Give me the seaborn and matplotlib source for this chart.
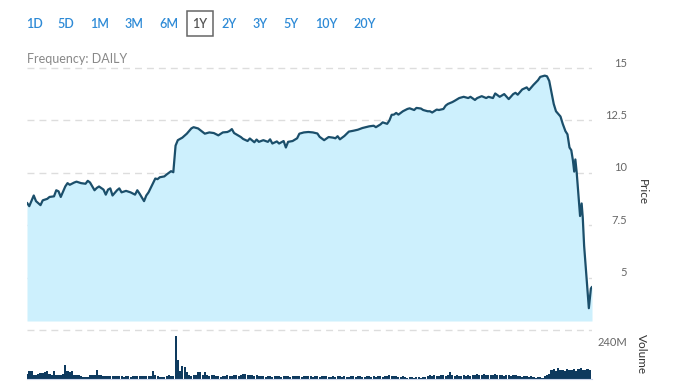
import numpy as np
import matplotlib
matplotlib.use("Agg")
import matplotlib.pyplot as plt
import matplotlib.transforms as mtransforms
from matplotlib.patches import Rectangle
import seaborn as sns

# range selector buttons and the selected one
ranges = ["1D", "5D", "1M", "3M", "6M", "1Y", "2Y", "3Y", "5Y", "10Y", "20Y"]
selected_range = "1Y"
frequency_text = "Frequency: DAILY"

# daily close (trading day index, price)
price_day = [0, 1, 3, 4, 6, 7, 9, 10, 12, 13,
             14, 15, 17, 18, 19, 21, 22, 24, 26, 27,
             28, 30, 31, 32, 34, 35, 36, 37, 38, 40,
             41, 42, 44, 46, 48, 49, 50, 52, 53, 54,
             56, 57, 58, 59, 61, 62, 64, 65, 66, 67,
             68, 69, 71, 73, 74, 76, 78, 79, 81, 83,
             85, 87, 89, 90, 91, 92, 95, 96, 98, 99,
             101, 102, 103, 105, 107, 108, 109, 111, 112, 114,
             115, 116, 118, 120, 121, 123, 125, 127, 129, 130,
             132, 134, 136, 137, 138, 139, 141, 143, 145, 147,
             149, 152, 154, 155, 157, 158, 160, 161, 162, 163,
             164, 165, 167, 169, 170, 172, 173, 175, 176, 178,
             179, 180, 182, 183, 185, 186, 187, 189, 190, 192,
             194, 196, 197, 199, 200, 202, 204, 205, 207, 208,
             210, 212, 214, 216, 217, 218, 220, 222, 223, 225,
             227, 228, 230, 231, 232, 233, 234, 235, 237, 238,
             239.2, 240.1, 241.0, 241.8, 242.5, 243.1, 243.6, 244.2, 244.9, 245.7,
             246.4, 246.9, 247.5, 248.4, 249.6, 250.5, 251.0]
price_close = [8.57, 8.41, 8.92, 8.65, 8.46, 8.69, 8.76, 8.85, 8.88, 9.17,
               9.12, 8.85, 9.35, 9.51, 9.43, 9.54, 9.58, 9.51, 9.48, 9.62,
               9.54, 9.17, 9.28, 9.35, 9.20, 8.96, 9.20, 9.26, 8.92, 9.17,
               9.26, 9.07, 9.14, 9.07, 8.96, 9.17, 9.01, 8.65, 8.92, 9.07,
               9.51, 9.73, 9.70, 9.79, 9.83, 9.92, 10.08, 10.03, 11.30, 11.56,
               11.62, 11.68, 11.87, 12.12, 12.18, 12.12, 11.95, 11.87, 11.93, 11.90,
               11.79, 11.93, 11.95, 12.00, 12.09, 11.90, 11.71, 11.62, 11.52, 11.64,
               11.46, 11.59, 11.48, 11.56, 11.48, 11.60, 11.40, 11.50, 11.40, 11.52,
               11.21, 11.48, 11.52, 11.65, 11.87, 11.93, 11.95, 11.93, 11.88, 11.72,
               11.56, 11.71, 11.68, 11.65, 11.75, 11.60, 11.76, 11.97, 12.01, 12.06,
               12.14, 12.22, 12.25, 12.18, 12.31, 12.41, 12.34, 12.50, 12.77, 12.78,
               12.86, 12.78, 12.94, 13.05, 13.08, 13.00, 13.10, 13.07, 13.00, 12.94,
               12.94, 12.88, 13.02, 13.00, 13.05, 13.21, 13.29, 13.38, 13.44, 13.57,
               13.63, 13.57, 13.63, 13.48, 13.57, 13.66, 13.57, 13.63, 13.57, 13.79,
               13.63, 13.76, 13.52, 13.76, 13.82, 13.73, 13.98, 14.08, 13.95, 14.20,
               14.42, 14.58, 14.64, 14.61, 14.39, 13.84, 13.29, 12.94, 12.69, 12.34,
               11.99, 11.84, 11.21, 11.08, 10.61, 10.06, 10.64, 10.02, 9.04, 7.94,
               8.54, 7.86, 6.52, 5.27, 3.54, 4.48, 4.56]

# daily volume in millions, one per trading day
volume_m = [20, 35, 35, 15, 15, 20, 25, 25, 30, 35,
            20, 15, 35, 15, 15, 15, 20, 65, 35, 30,
            35, 15, 15, 15, 10, 5, 5, 5, 15, 15,
            15, 40, 15, 15, 10, 10, 10, 10, 10, 10,
            10, 10, 10, 5, 10, 10, 5, 10, 10, 10,
            10, 10, 10, 10, 10, 10, 35, 15, 10, 5,
            5, 5, 10, 15, 10, 10, 210, 90, 35, 60,
            55, 30, 15, 10, 15, 15, 30, 30, 15, 30,
            15, 10, 15, 15, 10,
            10, 5, 10, 10, 15, 10, 10, 15, 15, 10,
            15, 20, 20, 15, 15, 15, 10, 15, 10, 10,
            10, 5, 10, 10, 5, 10, 10, 10, 5, 10,
            10, 10, 5, 10, 10, 10, 10, 5, 10, 10,
            10, 10, 5, 10, 10, 5, 10, 10, 10, 5,
            5, 10, 5, 10, 10, 5, 10, 5, 5, 10,
            10, 5, 10, 10, 5, 5, 10, 10, 5, 10,
            5, 10, 10, 5, 10, 10, 15, 10, 10, 10,
            5, 5, 10,
            5, 3, 5, 5, 3, 5, 5, 3, 5, 5,
            10, 15, 10, 15, 10, 10, 15, 15, 10, 15,
            30, 15, 10, 15, 10, 10, 15, 10, 15, 10,
            15, 15, 20, 15, 15, 20, 15, 15, 15, 15,
            20, 15, 15, 15, 10, 15, 15, 10, 15, 15,
            10, 10, 5, 10, 10, 5, 10, 5, 3, 5,
            5, 3, 10, 15, 20, 40, 45, 35, 50, 40,
            40, 35, 45, 40, 40, 45, 35, 45, 50, 40,
            40, 45, 40]
volume_day = np.arange(len(volume_m))

price_ticks = [5, 7.5, 10, 12.5, 15]
price_tick_labels = ["5", "7.5", "10", "12.5", "15"]
volume_ticks = [240]
volume_tick_labels = ["240M"]
month_ticks = [29, 72, 115, 157, 198, 239]

sns.set_style("white")
plt.rcParams["font.family"] = ["Lato", "DejaVu Sans"]

W, H = 678, 381
fig = plt.figure(figsize=(W / 100, H / 100), dpi=100)

grid_kw = dict(color="#dddddd", linestyle=(0, (5, 3.6)), linewidth=1)

# price pane
ax = fig.add_axes([27 / W, 60 / H, 565 / W, 255 / H])
ax.set_xlim(0, 251)
ax.set_ylim(2.93, 15.1)
ax.fill_between(price_day, price_close, 2.93, color="#cdf0fd", linewidth=0)
sns.lineplot(x=price_day, y=price_close, ax=ax, color="#1b4f6b", linewidth=1.6,
             estimator=None, sort=False)
ax.set_xticks([])
ax.set_xlabel("")
ax.set_ylabel("")
ax.yaxis.tick_right()
ax.set_yticks(price_ticks, price_tick_labels)
ax.tick_params(axis="y", length=0, pad=25.2, labelsize=8, labelcolor="#666666")
ax.grid(axis="y", **grid_kw)
ax.set_axisbelow(True)
for s in ax.spines.values():
    s.set_visible(False)
up = mtransforms.ScaledTranslation(0, 6 / 100, fig.dpi_scale_trans)
for lab in ax.get_yticklabels():
    lab.set_ha("right")
    lab.set_transform(lab.get_transform() + up)

# volume pane
ax_vol = fig.add_axes([27 / W, 2.5 / H, 565 / W, 49.5 / H])
sns.barplot(x=volume_day, y=volume_m, ax=ax_vol, native_scale=True, color="#0e3a5e",
            saturation=1, width=0.92, linewidth=0)
ax_vol.set_xlim(0, 251)
ax_vol.set_ylim(0, 245)
ax_vol.set_xlabel("")
ax_vol.set_ylabel("")
ax_vol.set_xticks(month_ticks)
ax_vol.set_xticklabels([])
ax_vol.tick_params(axis="x", direction="out", length=4, color="#ccd6eb", width=1)
ax_vol.yaxis.tick_right()
ax_vol.set_yticks(volume_ticks, volume_tick_labels)
ax_vol.tick_params(axis="y", length=0, pad=25.2, labelsize=8, labelcolor="#666666")
ax_vol.grid(axis="y", **grid_kw)
ax_vol.set_axisbelow(True)
for name, s in ax_vol.spines.items():
    s.set_visible(name == "bottom")
ax_vol.spines["bottom"].set_color("#ccd6eb")
down = mtransforms.ScaledTranslation(0, -11 / 100, fig.dpi_scale_trans)
for lab in ax_vol.get_yticklabels():
    lab.set_ha("right")
    lab.set_transform(lab.get_transform() + down)

# axis titles
fig.text(642 / W, 1 - 192 / H, "Price", rotation=270, ha="center", va="center",
         fontsize=8.5, color="#333333")
fig.text(641 / W, 1 - 354 / H, "Volume", rotation=270, ha="center", va="center",
         fontsize=8.5, color="#333333")

# range buttons
button_x = [34, 66, 100, 134, 169, 200, 229, 260, 291, 326, 365]
for label, bx in zip(ranges, button_x):
    is_sel = label == selected_range
    fig.text(bx / W, 1 - 23.5 / H, label, ha="center", va="center", fontsize=9,
             fontweight="semibold", color="#555555" if is_sel else "#2d8ad6")
    if is_sel:
        fig.add_artist(Rectangle((187 / W, 1 - 36 / H), 26 / W, 25 / H,
                                 transform=fig.transFigure, fill=False,
                                 edgecolor="#666666", linewidth=1.1))

fig.text(27 / W, 1 - 59 / H, frequency_text, ha="left", va="center", fontsize=9,
         color="#888888")

fig.savefig("out.png", dpi=100)
